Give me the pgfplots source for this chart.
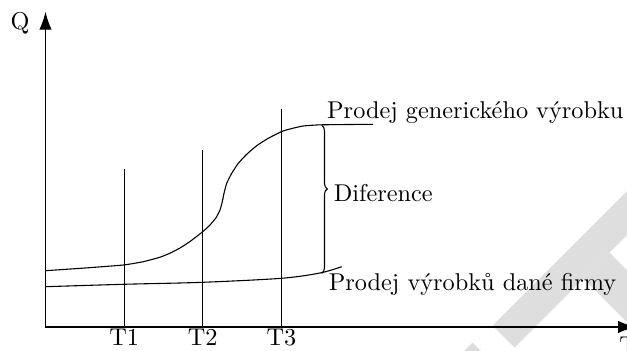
\documentclass[border=0pt]{standalone}
\usepackage{fontspec}
\usepackage{pgfplots}
\pgfplotsset{compat=1.18}
\usetikzlibrary{arrows.meta,decorations.pathreplacing}
\begin{document}
\begin{tikzpicture}
\begin{axis}[x=0.4115pt, y=0.4115pt, xmin=0, xmax=627, ymin=0, ymax=350,
  hide axis, clip=false, anchor=origin, at={(0,0)}]
% light watermark shapes
\addplot[fill=black!13, draw=none] coordinates {(492.5,24.5) (514.5,2.5) (700,188) (700,232)} -- cycle;
\addplot[fill=black!13, draw=none] coordinates {(583.5,71.5) (609.5,97.5) (700,7) (700,-45)} -- cycle;
\addplot[fill=black!13, draw=none] coordinates {(472.5,7.5) (455,-10) (490,-10)} -- cycle;
% axes
\addplot[line width=0.5pt, -{Latex[length=7.4pt,width=5.1pt]}] coordinates {(45.5,23) (45.5,338.3)};
\addplot[line width=0.5pt, -{Latex[length=7.4pt,width=5.1pt]}] coordinates {(45.5,23) (636,23)};
% time markers
\addplot[line width=0.45pt] coordinates {(124.3,23) (124.3,181)};
\addplot[line width=0.45pt] coordinates {(202.7,23) (202.7,200)};
\addplot[line width=0.45pt] coordinates {(281.5,23) (281.5,241)};
% generic product sales
\addplot[line width=0.45pt, smooth, tension=0.3, line join=round] coordinates {
(45.5,79.3) (85,82) (123.3,85) (143.3,88.3) (160,92.8) (170,96.8) (180,102)
(190,108.5) (202.7,118.3) (210,125) (216,132.3) (220,140) (222.3,148.3) (224,156.7)
(226.7,166.7) (231.7,176.7) (238.3,186.7) (246.7,195.7) (256.7,204.3) (268.3,211.7)
(281.7,218.5) (290,221) (303,224) (321.7,225.2) (373,225.7)};
% firm's product sales
\addplot[line width=0.45pt, smooth, tension=0.5] coordinates {
(45.5,63.3) (123.3,65.7) (202.7,67.7) (281.3,71.7) (320,77) (341.7,83.3)};
% brace
\draw[line width=0.45pt, decorate, decoration={brace, amplitude=2.3pt, aspect=0.43}]
  (axis cs:321.7,224.7) -- (axis cs:321.7,76.7);
% labels
\node[anchor=base west, inner sep=0pt] at (axis cs:326.7,231.7) {Prodej generického výrobku};
\node[anchor=base west, inner sep=0pt] at (axis cs:333.3,148.3) {Diference};
\node[anchor=base west, inner sep=0pt] at (axis cs:328.3,59.3) {Prodej výrobků dané firmy};
\node[anchor=base, inner sep=0pt] at (axis cs:124.3,5) {T1};
\node[anchor=base, inner sep=0pt] at (axis cs:202.7,5) {T2};
\node[anchor=base, inner sep=0pt] at (axis cs:281.5,5) {T3};
\node[anchor=base, inner sep=0pt] at (axis cs:20,320.4) {Q};
\node[anchor=base west, inner sep=0pt] at (axis cs:619,-3.6) {T};
\coordinate (ll) at (axis cs:0,0);
\coordinate (ur) at (axis cs:627,350);
\end{axis}
\pgfresetboundingbox
\path[use as bounding box] (ll) rectangle (ur);
\end{tikzpicture}
\end{document}
